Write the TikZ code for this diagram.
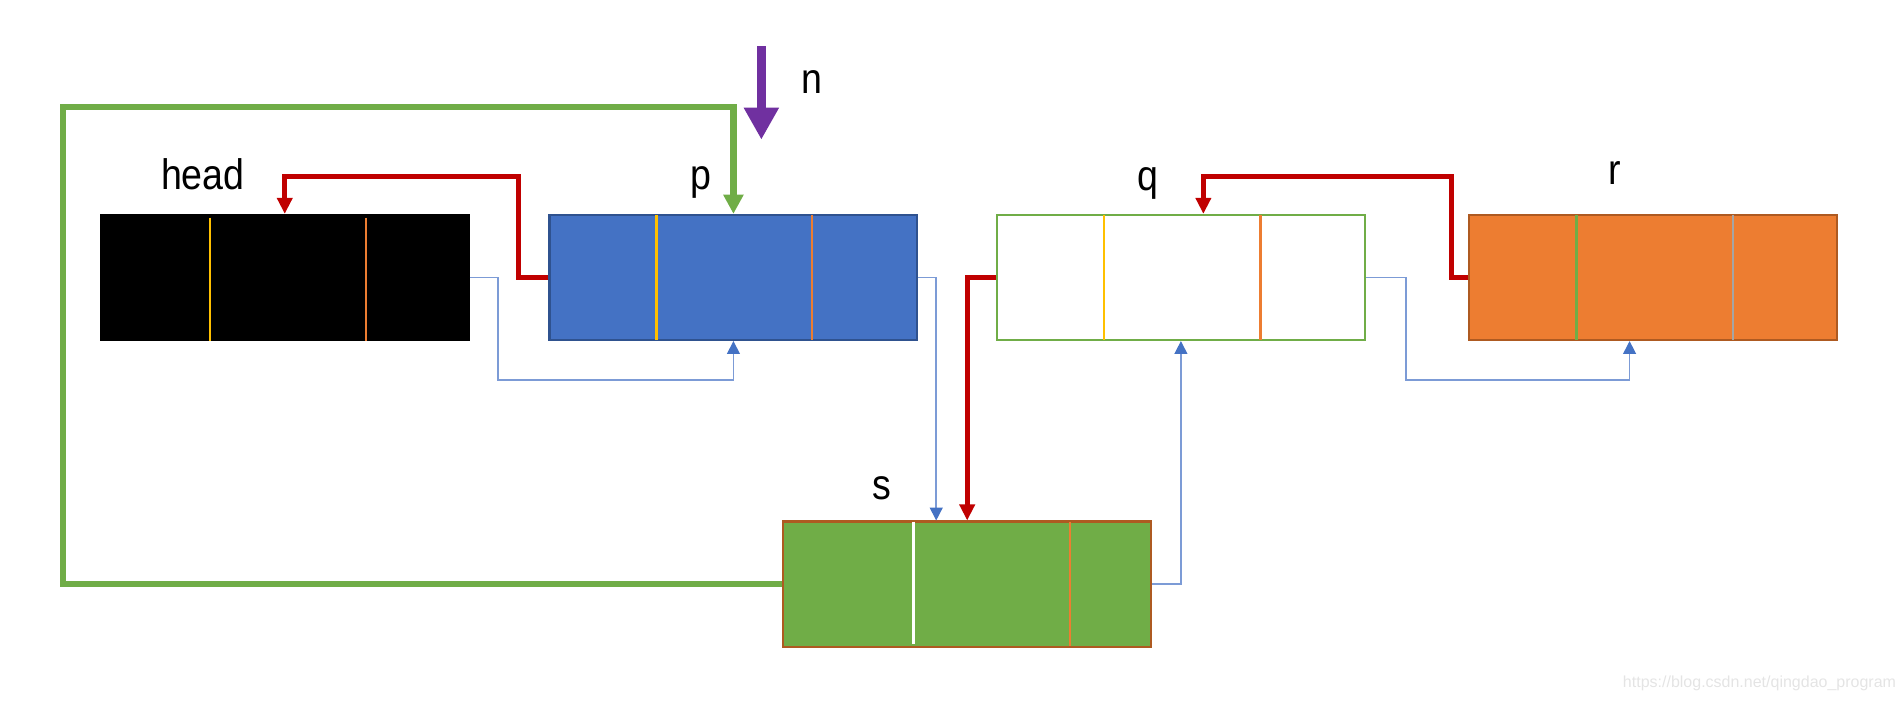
\documentclass[tikz,border=0pt]{standalone}
\usepackage{fontspec}
\setmainfont{Liberation Sans}
\newfontfamily\lblfont[FakeStretch=0.88]{Liberation Sans}
\usetikzlibrary{arrows.meta,calc}
\definecolor{cblue}{HTML}{4472C4}
\definecolor{cblueb}{HTML}{2F528F}
\definecolor{cgreen}{HTML}{70AD47}
\definecolor{corange}{HTML}{ED7D31}
\definecolor{corangeb}{HTML}{AE5A21}
\definecolor{cyellow}{HTML}{FFC000}
\definecolor{cgray}{HTML}{A5A5A5}
\definecolor{cred}{HTML}{C00000}
\definecolor{cpurple}{HTML}{7030A0}
\definecolor{cline}{HTML}{7C9BD6}
\definecolor{cwm}{HTML}{E4E4E4}
\tikzset{
  nodebox/.style={rectangle, minimum width=6.06cm, minimum height=2.06cm, inner sep=0pt, line width=1pt},
  lbl/.style={font=\lblfont\fontsize{20}{24}\selectfont, anchor=base, inner sep=0pt},
  redarrow/.style={draw=cred, line width=2.4pt, -{Triangle[width=7pt,length=7.5pt]}},
  greenline/.style={draw=cgreen, line width=2.9pt, -{Triangle[width=9pt,length=9pt]}},
  bluearrow/.style={draw=cline, line width=0.7pt, -{Triangle[width=6pt,length=6pt,color=cblue,fill=cblue]}},
  divider/.style={line width=1.1pt},
}
\begin{document}
\begin{tikzpicture}[x=0.02cm, y=-0.02cm]
\useasboundingbox (0,0) rectangle (1568,578);
% boxes
\node[nodebox, fill=black, draw=black] (head) at (234.5,228.5) {};
\node[nodebox, fill=cblue, draw=cblueb] (p) at (604,228.5) {};
\node[nodebox, fill=white, draw=cgreen] (q) at (972.5,228.5) {};
\node[nodebox, fill=corange, draw=corangeb] (r) at (1361.5,228.5) {};
\node[nodebox, fill=cgreen, draw=corangeb] (s) at (796.5,481) {};
% dividers
\draw[divider, cyellow] ($(head.north west)+(91,3)$) -- ($(head.south west)+(91,0)$);
\draw[divider, corange] ($(head.north west)+(219,3)$) -- ($(head.south west)+(219,0)$);
\draw[divider, cyellow] ($(p.north west)+(89,1)$) -- ($(p.south west)+(89,-1)$);
\draw[divider, corange] ($(p.north west)+(217,1)$) -- ($(p.south west)+(217,-1)$);
\draw[divider, cyellow] ($(q.north west)+(89,1)$) -- ($(q.south west)+(89,-1)$);
\draw[divider, corange] ($(q.north west)+(218,1)$) -- ($(q.south west)+(218,-1)$);
\draw[divider, cgreen] ($(r.north west)+(89,1)$) -- ($(r.south west)+(89,-1)$);
\draw[divider, cgray] ($(r.north west)+(218,1)$) -- ($(r.south west)+(218,-1)$);
\draw[divider, white, line width=1.5pt] ($(s.north west)+(108,1)$) -- ($(s.south west)+(108,-3)$);
\draw[divider, corange] ($(s.north west)+(237,1)$) -- ($(s.south west)+(237,-1)$);
% labels
\node[lbl] (headlbl) at (167,156) {head};
\node[lbl] (plbl) at (577,156) {p};
\node[lbl] (qlbl) at (945,157) {q};
\node[lbl] (rlbl) at (1330,152) {r};
\node[lbl] (slbl) at (726,411) {s};
\node[lbl] (nlbl) at (669,77) {n};
% purple arrow
\coordinate (ntop) at (627,38);
\coordinate (nbot) at (627,115);
\draw[draw=cpurple, line width=4.4pt, -{Triangle[width=15.5pt,length=15pt]}] (ntop) -- (nbot);
% green line
\draw[greenline] (s.west) -| (52,88) -| (p.north);
% red arrows
\draw[redarrow] (p.west) -| (427,145) -| (head.north);
\draw[redarrow] (q.west) -| (s.north);
\draw[redarrow] (r.west) -| (1195,145) -| ($(q.north)+(18.5,0)$);
% blue arrows
\draw[bluearrow] (head.east) -| (410,313) -| (p.south);
\draw[bluearrow] (p.east) -| ($(s.north)+(-25.5,0)$);
\draw[bluearrow] (s.east) -| (q.south);
\draw[bluearrow] (q.east) -| (1158,313) -| ($(r.south)+(-19.5,0)$);
% watermark
\node[font=\fontsize{7.5}{9}\selectfont, text=cwm, inner sep=0pt] (wm) at (1449,563) {https://blog.csdn.net/qingdao\_program};
\end{tikzpicture}
\end{document}
